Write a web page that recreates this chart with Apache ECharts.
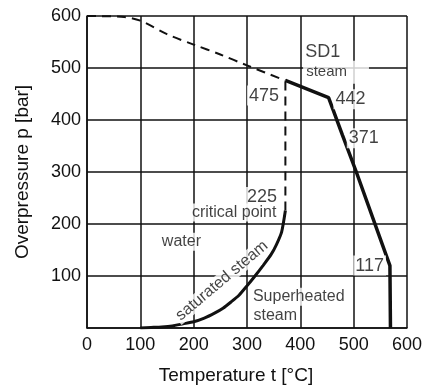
<!DOCTYPE html>
<html>
<head>
<meta charset="utf-8">
<script src="https://cdn.jsdelivr.net/npm/echarts@6/dist/echarts.min.js"></script>
<style>
  html, body { margin: 0; padding: 0; background: #fff; }
  #chart { width: 425px; height: 390px; }
</style>
</head>
<body>
<div id="chart"></div>
<script>
// tick labels
const xTicks = [0, 100, 200, 300, 400, 500, 600];
const yTicks = [100, 200, 300, 400, 500, 600];

// saturated steam curve (t, p)
const satT = [100, 120, 140, 160, 180, 200, 220, 240, 255, 270, 285, 300, 315, 330, 345, 355, 365, 372];
const satP = [0, 1, 2, 4, 8, 12, 19, 29, 38, 50, 63, 81, 100, 120, 141, 160, 185, 226];

// dashed upper boundary
const limT = [0, 70, 100, 150, 200, 250, 300, 372];
const limP = [600, 598, 591, 565, 545, 526, 505, 476];

// dashed vertical from critical point
const critT = [372, 372];
const critP = [226, 476];

// SD1 limit line
const sdT = [372, 453, 479, 505, 568, 569];
const sdP = [476, 443, 371, 300, 120, 0];

// annotations: t, p, text
const notes = [
  [442, 531, 'SD1'],
  [467, 492, 'steam'],
  [332, 447, '475'],
  [494, 440, '442'],
  [519, 365, '371'],
  [328, 252, '225'],
  [276, 222, 'critical point'],
  [177, 166, 'water'],
  [397, 60, 'Superheated'],
  [353, 24, 'steam'],
  [530, 120, '117'],
  [253, 91, 'saturated steam']
];

const ink = '#111';
const font = 'Liberation Sans, Arial, sans-serif';

function zip(a, b) {
  return a.map((v, i) => [v, b[i]]);
}

function noteLabel(text, i) {
  const lab = {
    show: true,
    position: 'inside',
    color: ink,
    fontFamily: font,
    fontSize: 16,
    backgroundColor: '#fff',
    padding: [1, 2]
  };
  if (text === 'SD1') { lab.fontSize = 18; lab.backgroundColor = 'transparent'; }
  if (/^\d+$/.test(text)) { lab.fontSize = 18; }
  if (text === 'steam' && i === 1) { lab.fontSize = 15; lab.padding = [4, 22, 4, 3]; }
  if (text === 'saturated steam') { lab.rotate = 40; lab.padding = [0, 2]; }
  return lab;
}

const chart = echarts.init(document.getElementById('chart'));

const axisCommon = {
  type: 'value',
  min: 0,
  max: 600,
  interval: 100,
  axisLine: { show: true, lineStyle: { color: ink, width: 1.5 } },
  axisTick: { show: false },
  splitLine: { show: true, lineStyle: { color: ink, width: 1.5 } },
  nameLocation: 'middle',
  nameTextStyle: { color: ink, fontFamily: font, fontSize: 19 }
};

chart.setOption({
  animation: false,
  backgroundColor: '#fff',
  grid: { left: 87, right: 16, top: 16, bottom: 53 },
  xAxis: Object.assign({}, axisCommon, {
    name: 'Temperature t [°C]',
    nameGap: 38,
    nameTextStyle: Object.assign({}, axisCommon.nameTextStyle, { padding: [0, 22, 0, 0] }),
    axisLabel: {
      color: ink, fontFamily: font, fontSize: 18, margin: 8,
      formatter: (v) => (xTicks.indexOf(v) >= 0 ? String(v) : '')
    }
  }),
  yAxis: Object.assign({}, axisCommon, {
    name: 'Overpressure p [bar]',
    nameGap: 55,
    axisLabel: {
      color: ink, fontFamily: font, fontSize: 18, margin: 6,
      formatter: (v) => (yTicks.indexOf(v) >= 0 ? String(v) : '')
    }
  }),
  series: [
    {
      type: 'line',
      data: zip(limT, limP),
      smooth: 0.3,
      symbol: 'none',
      lineStyle: { color: ink, width: 2, type: [9, 6] }
    },
    {
      type: 'line',
      data: zip(critT, critP),
      symbol: 'none',
      lineStyle: { color: ink, width: 2, type: [9, 6] }
    },
    {
      type: 'line',
      data: zip(satT, satP),
      smooth: 0.2,
      symbol: 'none',
      lineStyle: { color: ink, width: 3 }
    },
    {
      type: 'line',
      data: zip(sdT, sdP),
      symbol: 'none',
      lineStyle: { color: ink, width: 3.5 }
    },
    {
      type: 'scatter',
      symbolSize: 0,
      z: 5,
      data: notes.map((n, i) => ({
        value: [n[0], n[1]],
        label: Object.assign(noteLabel(n[2], i), { formatter: n[2] })
      }))
    }
  ]
});
</script>
</body>
</html>
